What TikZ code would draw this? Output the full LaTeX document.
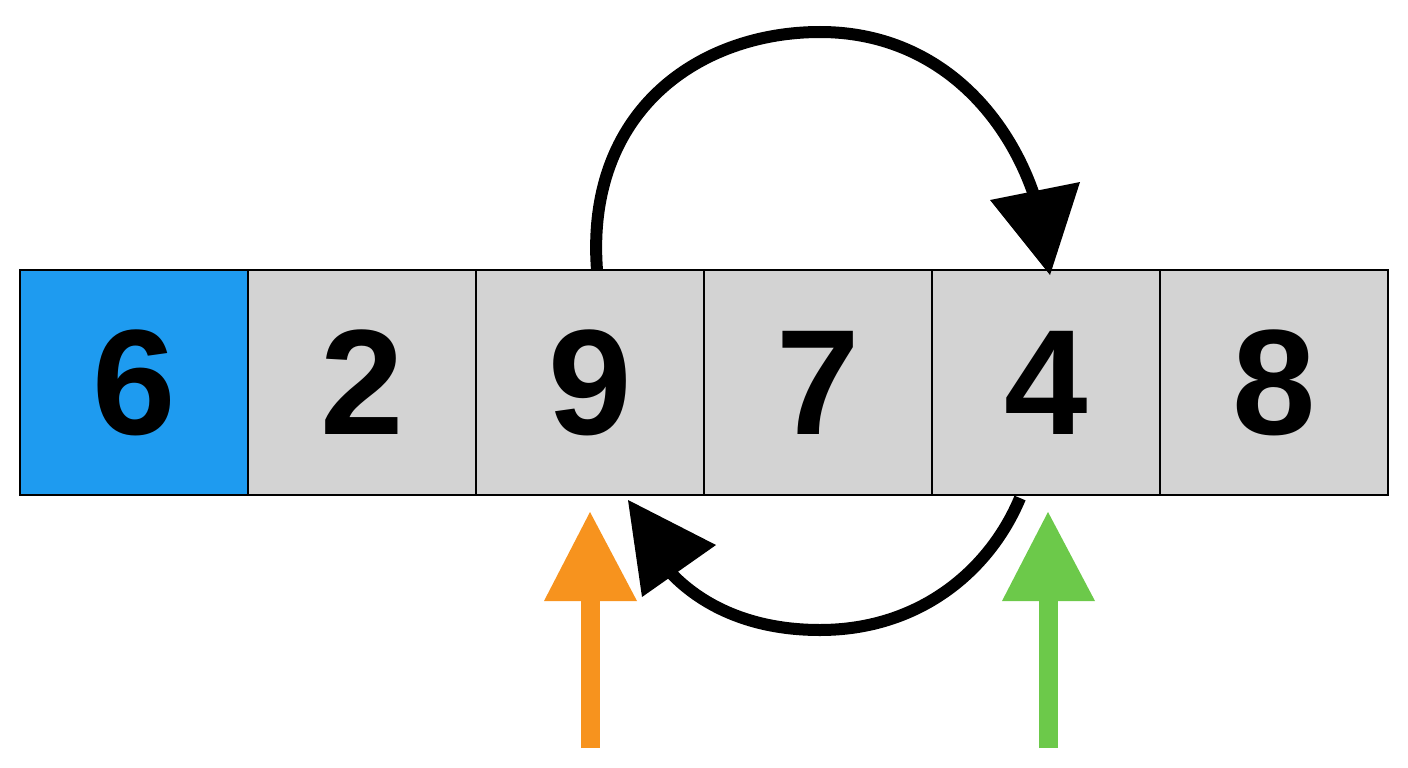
\documentclass[tikz,border=0pt]{standalone}
\usepackage{fontspec}
\setmainfont{Liberation Sans}
\definecolor{cellgray}{HTML}{D3D3D3}
\definecolor{cellblue}{HTML}{1E9BF0}
\definecolor{aorange}{HTML}{F7931E}
\definecolor{agreen}{HTML}{6CC94A}
\begin{document}
\begin{tikzpicture}[x=1pt,y=-1pt,
  cell/.style={draw=black,line width=2.5pt,fill=cellgray,minimum width=228pt,minimum height=225pt,inner sep=0pt,font=\fontsize{150}{150}\selectfont\bfseries},
  arc/.style={line width=12pt},
  head/.style={fill=black}]
\useasboundingbox (0,0) rectangle (1408,768);
\foreach \v [count=\i from 0] in {6,2,9,7,4,8}{
  \node[cell] (c\i) at ({134+228*\i},382.5) {\v};
}
\node[cell,fill=cellblue] at (c0) {6};
% top arc
\coordinate (t1) at (597,270);
\coordinate (t2) at (1040,215);
\draw[arc] (t1) .. controls (585,110) and (700,32) .. (820,32) .. controls (940,32) and (1015,120) .. (t2);
\fill[head] (990,200) -- (1080,182) -- (1050,275) -- cycle;
% bottom arc
\coordinate (b1) at (1020,498);
\coordinate (b2) at (668,570);
\draw[arc] (b1) .. controls (990,570) and (920,630) .. (820,630) .. controls (750,630) and (700,605) .. (b2);
\fill[head] (628,500) -- (716,545) -- (642,597) -- cycle;
% pointers
\coordinate (o1) at (590,748); \coordinate (o2) at (590,595);
\draw[aorange,line width=19pt] (o1) -- (o2);
\fill[aorange] (544,601) -- (590,512) -- (637,601) -- cycle;
\coordinate (g1) at (1048,748); \coordinate (g2) at (1048,595);
\draw[agreen,line width=19pt] (g1) -- (g2);
\fill[agreen] (1002,601) -- (1048,512) -- (1095,601) -- cycle;
\end{tikzpicture}
\end{document}
